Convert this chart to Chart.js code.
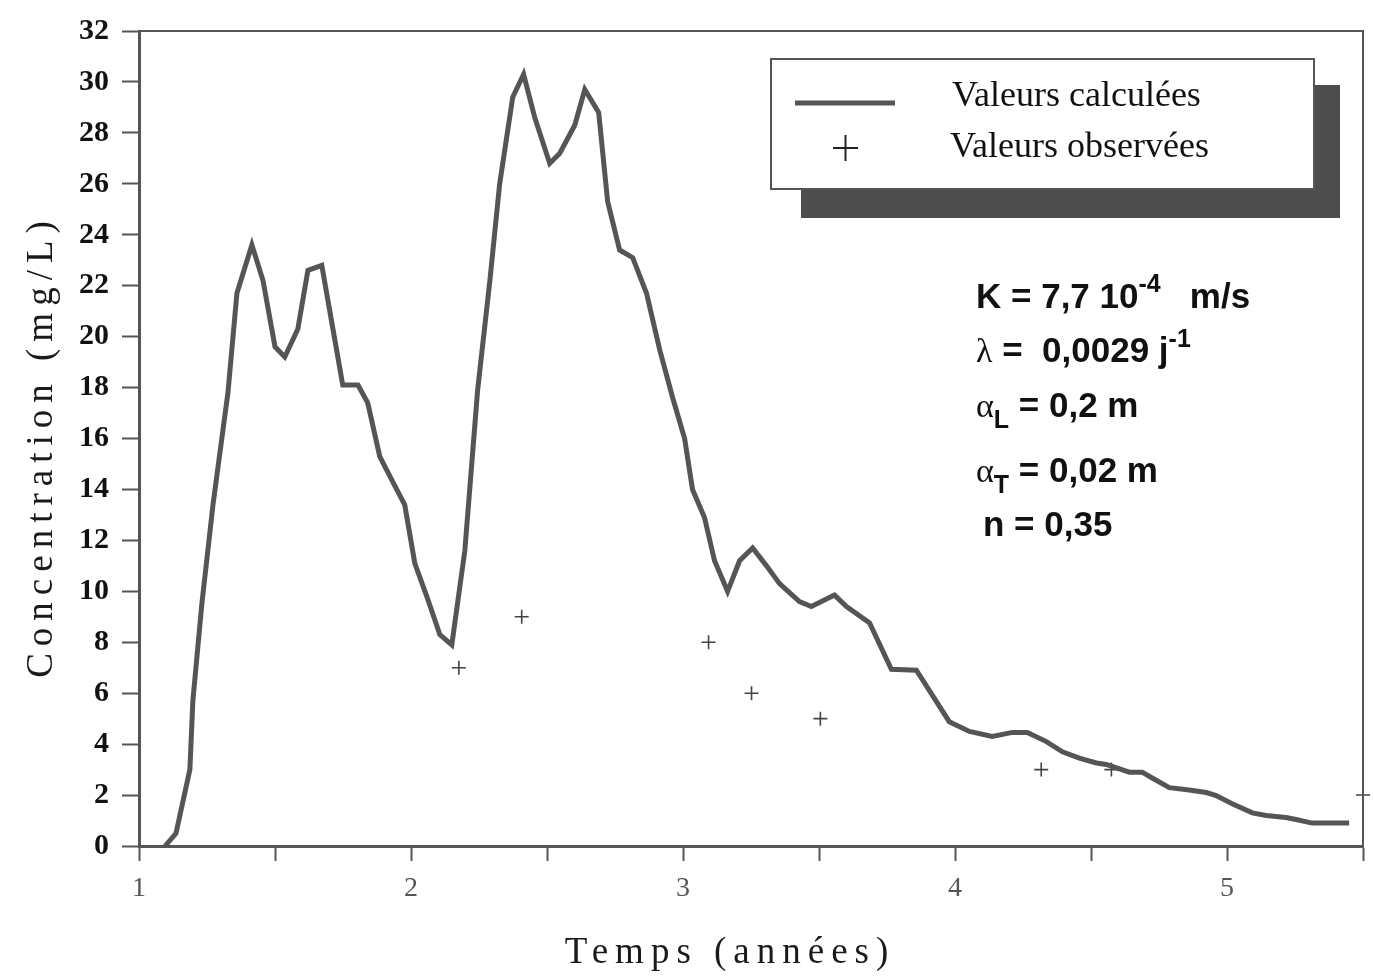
<!DOCTYPE html>
<html>
<head>
<meta charset="utf-8">
<script src="https://cdn.jsdelivr.net/npm/chart.js@4/dist/chart.umd.min.js"></script>
<style>
  html, body { margin: 0; padding: 0; background: #fff; }
  #wrap { width: 1374px; height: 977px; }
</style>
</head>
<body>
<div id="wrap"><canvas id="graphique" width="1374" height="977"></canvas></div>
<script>
// valeurs calculées (temps en années, concentration en mg/L)
const calcYears = [1.096, 1.136, 1.187, 1.198, 1.231, 1.272, 1.327, 1.36, 1.415, 1.456,
    1.5, 1.536, 1.584, 1.621, 1.672, 1.713, 1.749, 1.805, 1.841, 1.885,
    1.933, 1.977, 2.014, 2.058, 2.106, 2.15, 2.198, 2.245, 2.29, 2.326,
    2.374, 2.414, 2.455, 2.51, 2.547, 2.602, 2.639, 2.69, 2.723, 2.767,
    2.815, 2.866, 2.914, 2.962, 3.006, 3.035, 3.079, 3.116, 3.164, 3.208,
    3.256, 3.307, 3.355, 3.428, 3.472, 3.557, 3.601, 3.686, 3.766, 3.858,
    3.979, 4.053, 4.137, 4.211, 4.266, 4.336, 4.395, 4.457, 4.52, 4.556,
    4.641, 4.688, 4.725, 4.788, 4.861, 4.924, 4.96, 5.019, 5.093, 5.144,
    5.217, 5.254, 5.313, 5.449];
const calcValues = [0, 0.5, 3.0, 5.7, 9.5, 13.4, 17.8, 21.7, 23.6, 22.2,
    19.6, 19.2, 20.3, 22.6, 22.8, 20.3, 18.1, 18.1, 17.4, 15.3,
    14.3, 13.4, 11.1, 9.8, 8.3, 7.9, 11.6, 17.9, 22.2, 26.0,
    29.4, 30.3, 28.6, 26.8, 27.2, 28.3, 29.7, 28.8, 25.3, 23.4,
    23.1, 21.7, 19.5, 17.6, 16.0, 14.0, 12.9, 11.2, 10.0, 11.2,
    11.7, 11.0, 10.3, 9.6, 9.4, 9.85, 9.4, 8.76, 6.94, 6.9,
    4.88, 4.5, 4.3, 4.46, 4.46, 4.1, 3.7, 3.45, 3.26, 3.2,
    2.9, 2.9, 2.67, 2.29, 2.2, 2.1, 1.98, 1.66, 1.3, 1.2,
    1.12, 1.04, 0.9, 0.9];

// valeurs observées
const obsYears = [2.176, 2.407, 3.094, 3.252, 3.505, 4.317, 4.575, 5.5];
const obsValues = [7, 9, 8, 6, 5, 3, 3, 2];

const seriesLabels = ['Valeurs calculées', 'Valeurs observées'];
const xTitle = 'Temps (années)';
const yTitle = 'Concentration (mg/L)';
const xMin = 1, xMax = 5.5, xStep = 0.5;
const yMin = 0, yMax = 32, yStep = 2;

const AXIS = '#555';
const SERIF = '"Liberation Serif", "DejaVu Serif", serif';
const SANS = '"Liberation Sans", Arial, sans-serif';

function pts(xs, ys) {
    return xs.map(function (x, i) { return { x: x, y: ys[i] }; });
}

// cadre haut / droite
const cadre = {
    id: 'cadre',
    afterDraw: function (chart) {
        const a = chart.chartArea, ctx = chart.ctx;
        ctx.save();
        ctx.strokeStyle = AXIS;
        ctx.lineWidth = 2;
        ctx.beginPath();
        ctx.moveTo(a.left, a.top);
        ctx.lineTo(a.right, a.top);
        ctx.lineTo(a.right, a.bottom);
        ctx.stroke();
        ctx.restore();
    }
};

// titres d'axes espacés
const titres = {
    id: 'titres',
    afterDraw: function (chart) {
        const a = chart.chartArea, ctx = chart.ctx;
        ctx.save();
        ctx.fillStyle = '#1a1a1a';
        ctx.font = '37px ' + SERIF;
        ctx.letterSpacing = '7px';
        ctx.textAlign = 'center';
        ctx.textBaseline = 'middle';
        ctx.fillText(xTitle, 730, 953);
        ctx.translate(42, 446);
        ctx.rotate(-Math.PI / 2);
        ctx.fillText(yTitle, 0, 0);
        ctx.restore();
    }
};

// légende encadrée avec ombre
const legende = {
    id: 'legende',
    afterDraw: function (chart) {
        const ctx = chart.ctx;
        const bx = 771, by = 59, bw = 543, bh = 130;
        const dsLine = chart.data.datasets[0], dsObs = chart.data.datasets[1];
        ctx.save();
        ctx.fillStyle = '#4d4d4d';
        ctx.fillRect(bx + 30, by + 26, bw - 4, bh + 3);
        ctx.fillStyle = '#fff';
        ctx.fillRect(bx, by, bw, bh);
        ctx.strokeStyle = '#555';
        ctx.lineWidth = 2;
        ctx.strokeRect(bx, by, bw, bh);

        ctx.strokeStyle = dsLine.borderColor;
        ctx.lineWidth = 5;
        ctx.beginPath();
        ctx.moveTo(795, 103);
        ctx.lineTo(895, 103);
        ctx.stroke();

        ctx.strokeStyle = '#222';
        ctx.lineWidth = 2;
        ctx.beginPath();
        ctx.moveTo(833, 148); ctx.lineTo(858, 148);
        ctx.moveTo(845.5, 135); ctx.lineTo(845.5, 161);
        ctx.stroke();

        ctx.fillStyle = '#111';
        ctx.font = '36px ' + SERIF;
        ctx.textBaseline = 'alphabetic';
        ctx.textAlign = 'left';
        ctx.fillText(dsLine.label, 952, 106);
        ctx.fillText(dsObs.label, 950, 157);
        ctx.restore();
    }
};

// paramètres du modèle
function ligne(ctx, x, morceaux) {
    morceaux.forEach(function (m) {
        ctx.font = m.f;
        ctx.fillText(m.t, x, m.y);
        x += ctx.measureText(m.t).width;
    });
}
const parametres = {
    id: 'parametres',
    afterDraw: function (chart) {
        const ctx = chart.ctx;
        const big = 'bold 35px ' + SANS, small = 'bold 25px ' + SANS, grec = '34px ' + SERIF;
        ctx.save();
        ctx.fillStyle = '#111';
        ctx.textAlign = 'left';
        ctx.textBaseline = 'alphabetic';
        ligne(ctx, 976, [{ t: 'K = 7,7 10', f: big, y: 308 }, { t: '-4', f: small, y: 292 }, { t: '   m/s', f: big, y: 308 }]);
        ligne(ctx, 976, [{ t: 'λ', f: grec, y: 362 }, { t: ' =  0,0029 j', f: big, y: 362 }, { t: '-1', f: small, y: 347 }]);
        ligne(ctx, 976, [{ t: 'α', f: grec, y: 417 }, { t: 'L', f: small, y: 428 }, { t: ' = 0,2 m', f: big, y: 417 }]);
        ligne(ctx, 976, [{ t: 'α', f: grec, y: 482 }, { t: 'T', f: small, y: 493 }, { t: ' = 0,02 m', f: big, y: 482 }]);
        ligne(ctx, 983, [{ t: 'n = 0,35', f: big, y: 536 }]);
        ctx.restore();
    }
};

const ctx = document.getElementById('graphique');

new Chart(ctx, {
    type: 'scatter',
    data: {
        datasets: [
            {
                label: seriesLabels[0],
                data: pts(calcYears, calcValues),
                showLine: true,
                borderColor: '#555',
                borderWidth: 5,
                pointRadius: 0,
                tension: 0
            },
            {
                label: seriesLabels[1],
                data: pts(obsYears, obsValues),
                showLine: false,
                pointStyle: 'cross',
                pointRadius: 7,
                borderColor: '#444',
                borderWidth: 1.6,
                clip: false
            }
        ]
    },
    options: {
        responsive: false,
        animation: false,
        devicePixelRatio: 1,
        layout: {
            padding: { top: 21, right: 10, bottom: 0, left: 0 }
        },
        plugins: {
            legend: { display: false },
            tooltip: { enabled: false }
        },
        scales: {
            x: {
                type: 'linear',
                min: xMin,
                max: xMax,
                afterFit: function (s) { s.height = 131; },
                afterBuildTicks: function (s) {
                    const t = [];
                    for (let v = xMin; v <= xMax + 1e-9; v += xStep) t.push({ value: Math.round(v * 10) / 10 });
                    s.ticks = t;
                },
                border: { display: true, color: AXIS, width: 3 },
                grid: {
                    drawOnChartArea: false,
                    drawTicks: true,
                    tickLength: 15,
                    tickColor: AXIS,
                    tickWidth: 2
                },
                ticks: {
                    autoSkip: false,
                    maxRotation: 0,
                    padding: 11,
                    color: '#555',
                    font: { family: SERIF, size: 28 },
                    callback: function (v) { return Number.isInteger(v) ? String(v) : ''; }
                }
            },
            y: {
                min: yMin,
                max: yMax,
                afterFit: function (s) { s.width = 139; },
                border: { display: true, color: AXIS, width: 3 },
                grid: {
                    drawOnChartArea: false,
                    drawTicks: true,
                    tickLength: 17,
                    tickColor: AXIS,
                    tickWidth: 2
                },
                ticks: {
                    stepSize: yStep,
                    padding: 13,
                    color: '#111',
                    font: { family: SERIF, size: 30, weight: 'bold' }
                }
            }
        }
    },
    plugins: [cadre, titres, legende, parametres]
});
</script>
</body>
</html>
